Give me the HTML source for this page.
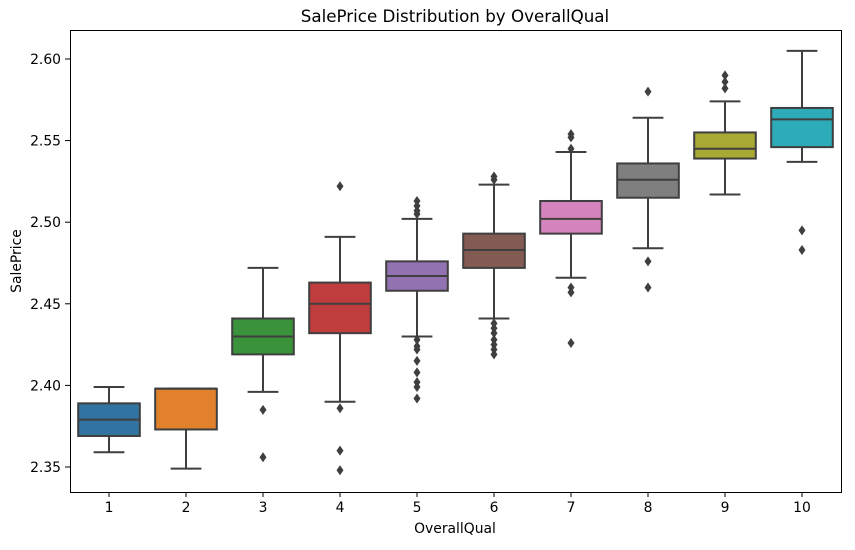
<!DOCTYPE html>
<html><head><meta charset="utf-8"><style>
html,body{margin:0;padding:0;background:#fff;}
svg text{font-family:"DejaVu Sans","Liberation Sans",sans-serif;fill:#000;}
</style></head><body>
<svg id="chart" width="855" height="545" viewBox="0 0 855 545" xmlns="http://www.w3.org/2000/svg">
<text x="455" y="22" font-size="16.7" text-anchor="middle">SalePrice Distribution by OverallQual</text>
<text x="455" y="533" font-size="13.9" text-anchor="middle">OverallQual</text>
<text x="21" y="261" font-size="13.9" text-anchor="middle" transform="rotate(-90 21 261)">SalePrice</text>
<g id="marks"></g>
<rect x="70.5" y="30.5" width="771" height="462" fill="none" stroke="#000" stroke-width="1"/>
<g id="axes"></g>
</svg>
<script>
const categories = ['1','2','3','4','5','6','7','8','9','10'];
const colors = ['#3274a1','#e1812c','#3a923a','#c03d3e','#9372b2','#845b53','#d684bd','#7f7f7f','#a9aa35','#2eabb8'];
const whiskLo = [2.359,2.349,2.396,2.390,2.430,2.441,2.466,2.484,2.517,2.537];
const q1 = [2.369,2.373,2.419,2.432,2.458,2.472,2.493,2.515,2.539,2.546];
const med = [2.379,2.398,2.430,2.450,2.467,2.483,2.502,2.526,2.545,2.563];
const q3 = [2.389,2.398,2.441,2.463,2.476,2.493,2.513,2.536,2.555,2.570];
const whiskHi = [2.399,2.398,2.472,2.491,2.502,2.523,2.543,2.564,2.574,2.605];
const outliers = [[],[],[2.385,2.356],[2.522,2.386,2.360,2.348],
 [2.505,2.507,2.510,2.513,2.428,2.424,2.422,2.415,2.408,2.402,2.399,2.392],
 [2.526,2.528,2.438,2.435,2.432,2.428,2.425,2.422,2.419],
 [2.545,2.552,2.554,2.460,2.457,2.426],[2.580,2.476,2.460],[2.582,2.586,2.590],[2.495,2.483]];
const yTicks = [2.35,2.40,2.45,2.50,2.55,2.60];
const yTickLabels = ['2.35','2.40','2.45','2.50','2.55','2.60'];

const NS='http://www.w3.org/2000/svg';
const y = v => 467 - (v-2.35)*1632;
const x = i => 109 + i*77;
const bw = 61.6, ec='#3f3f3f';
const marks=document.getElementById('marks'), axes=document.getElementById('axes');
function mk(tag, attrs, parent){const e=document.createElementNS(NS,tag);for(const k in attrs)e.setAttribute(k,attrs[k]);parent.appendChild(e);return e;}
categories.forEach((c,i)=>{
  const g=mk('g',{},marks);
  
  
  const cx=x(i);
  if(whiskHi[i]>q3[i]){
    const l=mk('line',{x1:cx,x2:cx,y1:y(q3[i]),y2:y(whiskHi[i]),stroke:ec,'stroke-width':2},g);
    
    
  }
  const l2=mk('line',{x1:cx,x2:cx,y1:y(q1[i]),y2:y(whiskLo[i]),stroke:ec,'stroke-width':2},g);
  
  
  [whiskHi[i],whiskLo[i]].forEach((v,k)=>{
    const cap=mk('line',{x1:cx-bw/4,x2:cx+bw/4,y1:y(v),y2:y(v),stroke:ec,'stroke-width':2},g);
    
    
  });
  const r=mk('rect',{x:cx-bw/2,y:y(q3[i]),width:bw,height:y(q1[i])-y(q3[i]),fill:colors[i],stroke:ec,'stroke-width':2},g);
  
  
  const m=mk('line',{x1:cx-bw/2,x2:cx+bw/2,y1:y(med[i]),y2:y(med[i]),stroke:ec,'stroke-width':2},g);
  
  
  outliers[i].forEach(v=>{
    const py=y(v);
    const p=mk('polygon',{points:`${cx},${py-5} ${cx+3.5},${py} ${cx},${py+5} ${cx-3.5},${py}`,fill:ec},g);
    
    
  });
  const t=mk('line',{x1:cx,x2:cx,y1:492,y2:497,stroke:'#000','stroke-width':1},axes);
  
  
  const tl=mk('text',{x:cx,y:512,'font-size':13.9,'text-anchor':'middle'},axes);
  tl.textContent=c;
  
  
});
yTicks.forEach((v,k)=>{
  const t=mk('line',{x1:65,x2:70,y1:y(v),y2:y(v),stroke:'#000','stroke-width':1},axes);
  
  
  const tl=mk('text',{x:61,y:y(v)+5,'font-size':13.9,'text-anchor':'end'},axes);
  tl.textContent=yTickLabels[k];
  
  
});
</script>
</body></html>
